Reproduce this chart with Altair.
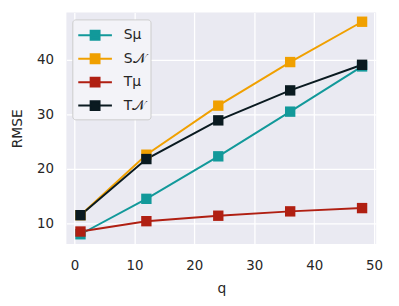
import altair as alt
import pandas as pd

q = [1, 12, 24, 36, 48]
series_names = ["Sμ", "S𝒩", "Tμ", "T𝒩"]
s_mu = [8.0, 14.5, 22.3, 30.5, 38.8]
s_n = [11.5, 22.6, 31.6, 39.6, 47.0]
t_mu = [8.5, 10.4, 11.4, 12.2, 12.8]
t_n = [11.5, 21.8, 28.9, 34.4, 39.1]
colors = ["#12999A", "#F0A000", "#B01F12", "#0A1A20"]

rows = []
for name, vals in zip(series_names, [s_mu, s_n, t_mu, t_n]):
    for x, y in zip(q, vals):
        rows.append({"q": x, "RMSE": y, "series": name})
df = pd.DataFrame(rows)

font = "DejaVu Sans"
txt = "#262626"

color = alt.Color(
    "series:N",
    scale=alt.Scale(domain=series_names, range=colors),
    legend=alt.Legend(
        title=None,
        orient="none",
        legendX=6,
        legendY=7,
        symbolType="M-1.7,0H1.7M-0.45,-0.45H0.45V0.45H-0.45Z",
        symbolSize=400,
        symbolStrokeWidth=2,
        symbolOffset=7,
        labelFontSize=14,
        labelFont=font,
        labelColor=txt,
        labelOffset=18,
        rowPadding=3.7,
        padding=5,
        fillColor="#F3F3F8",
        strokeColor="#CCCCCC",
        cornerRadius=3,
    ),
)

x = alt.X("q:Q", scale=alt.Scale(domain=[-1.35, 50.35], nice=False, zero=False),
          axis=alt.Axis(values=[0, 10, 20, 30, 40, 50], title="q"))
y = alt.Y("RMSE:Q", scale=alt.Scale(domain=[6.2, 48.7], nice=False, zero=False),
          axis=alt.Axis(values=[10, 20, 30, 40], title="RMSE"))

order = alt.Order("series_order:Q")

base = alt.Chart(df).transform_calculate(
    series_order="indexof(['Sμ','S𝒩','Tμ','T𝒩'], datum.series)"
)

lines = base.mark_line(strokeWidth=2).encode(x=x, y=y, color=color, detail="series:N")
points = base.mark_point(shape="square", filled=True, size=110, opacity=1).encode(
    x=x, y=y, color=color, order=order
)

chart = alt.layer(lines, points).properties(
    width=313,
    height=234,
    autosize=alt.AutoSizeParams(type="none"),
    padding={"left": 59, "top": 3, "right": 15, "bottom": 55},
).configure_view(
    fill="#EAEAF2", stroke=None
).configure_axis(
    grid=True,
    gridColor="white",
    gridWidth=1.3,
    domain=False,
    ticks=False,
    labelFont=font,
    labelFontSize=13.5,
    labelColor=txt,
    titleFont=font,
    titleFontSize=14,
    titleFontWeight="normal",
    titleColor=txt,
).configure_axisX(labelPadding=15, titlePadding=9).configure_axisY(labelPadding=13, titlePadding=12)

chart.save("out.html", embed_options={"renderer": "svg", "actions": False})
